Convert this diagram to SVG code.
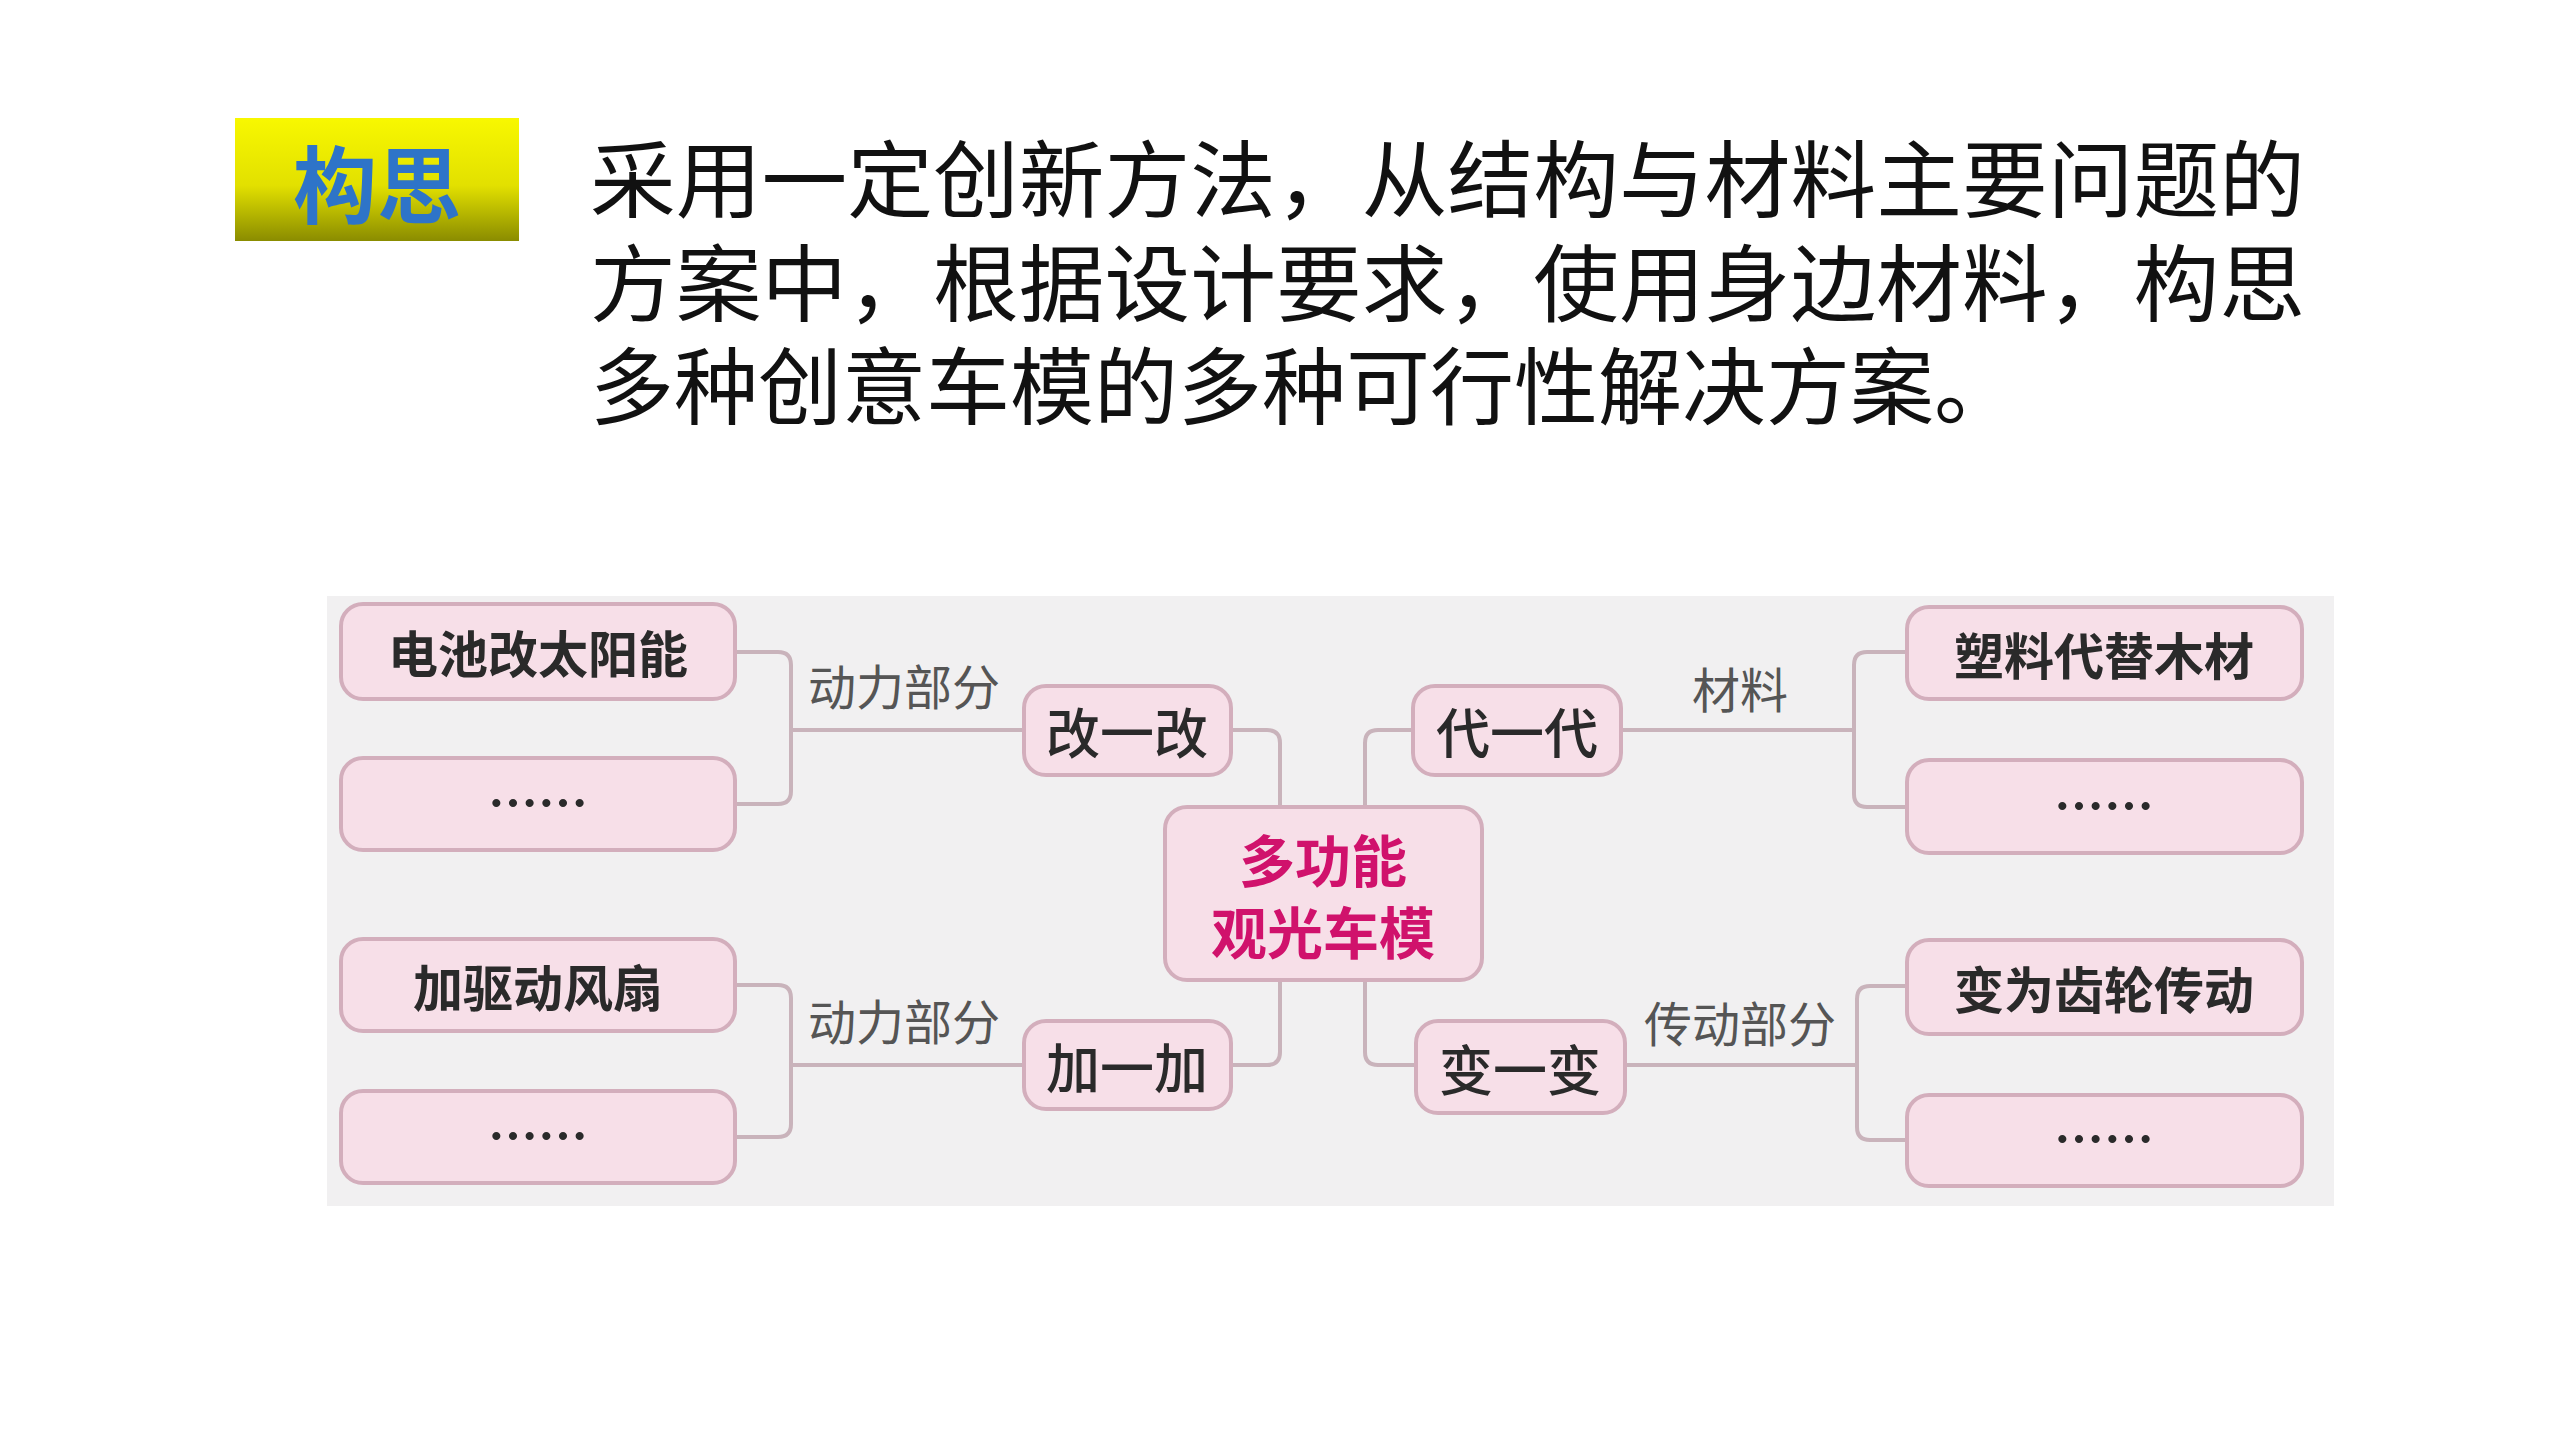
<svg xmlns="http://www.w3.org/2000/svg" width="2560" height="1440" viewBox="0 0 2560 1440">
<defs>
<linearGradient id="yg" x1="0" y1="0" x2="0" y2="1"><stop offset="0" stop-color="#f8f800"/><stop offset="0.55" stop-color="#e2e000"/><stop offset="1" stop-color="#8a8c00"/></linearGradient>
</defs>
<style>
.box{fill:#f7dfe8;stroke:#d3aebc;stroke-width:4}
.t{font-family:"Noto Sans CJK SC",sans-serif;font-weight:700;fill:#2a2a2a;text-anchor:middle;dominant-baseline:central}
.g{font-weight:500}
.lbl{font-family:"Noto Sans CJK SC",sans-serif;fill:#555;font-size:48px;text-anchor:middle}
.c{fill:none;stroke:#c9b3bb;stroke-width:4}
</style>
<rect width="2560" height="1440" fill="#fff"/>
<g id="title">
<rect x="235" y="118" width="284" height="123" fill="url(#yg)"/>
<text x="377" y="180" font-family="Noto Sans CJK SC,sans-serif" font-weight="700" font-size="84" fill="#2e74c8" text-anchor="middle" dominant-baseline="central">构思</text>
</g>
<g id="para" font-family="Noto Sans CJK SC,sans-serif" font-size="84" fill="#111">
<text x="590" y="211" textLength="1715" lengthAdjust="spacingAndGlyphs">采用一定创新方法，从结构与材料主要问题的</text>
<text x="590" y="315" textLength="1715" lengthAdjust="spacingAndGlyphs">方案中，根据设计要求，使用身边材料，构思</text>
<text x="590" y="418">多种创意车模的多种可行性解决方案。</text>
</g>
<rect x="327" y="596" width="2007" height="610" fill="#f1f0f1"/>
<g id="connectors" class="c">
<path d="M735 652 H778 Q791 652 791 665 V791 Q791 804 778 804 H735"/>
<path d="M791 730 H1024"/>
<path d="M735 985 H778 Q791 985 791 998 V1124 Q791 1137 778 1137 H735"/>
<path d="M791 1065 H1024"/>
<path d="M1231 730 H1267 Q1280 730 1280 743 V807"/>
<path d="M1231 1065 H1267 Q1280 1065 1280 1052 V980"/>
<path d="M1413 730 H1378 Q1365 730 1365 743 V807"/>
<path d="M1416 1065 H1378 Q1365 1065 1365 1052 V980"/>
<path d="M1907 652 H1867 Q1854 652 1854 665 V794 Q1854 807 1867 807 H1907"/>
<path d="M1621 730 H1854"/>
<path d="M1907 986 H1870 Q1857 986 1857 999 V1127 Q1857 1140 1870 1140 H1907"/>
<path d="M1625 1065 H1857"/>
</g>
<g id="labels">
<text class="lbl" x="904" y="705">动力部分</text>
<text class="lbl" x="904" y="1040">动力部分</text>
<text class="lbl" x="1740" y="708">材料</text>
<text class="lbl" x="1740" y="1042">传动部分</text>
</g>
<g id="n1"><rect class="box" x="341" y="604" width="394" height="95" rx="22"/><text class="t" x="538" y="651" font-size="50">电池改太阳能</text></g>
<g id="n2"><rect class="box" x="341" y="758" width="394" height="92" rx="22"/><text class="t" x="538" y="800" font-size="50">……</text></g>
<g id="n3"><rect class="box" x="341" y="939" width="394" height="92" rx="22"/><text class="t" x="538" y="985" font-size="50">加驱动风扇</text></g>
<g id="n4"><rect class="box" x="341" y="1091" width="394" height="92" rx="22"/><text class="t" x="538" y="1133" font-size="50">……</text></g>
<g id="n5"><rect class="box" x="1907" y="607" width="395" height="92" rx="22"/><text class="t" x="2104" y="653" font-size="50">塑料代替木材</text></g>
<g id="n6"><rect class="box" x="1907" y="760" width="395" height="93" rx="22"/><text class="t" x="2104" y="803" font-size="50">……</text></g>
<g id="n7"><rect class="box" x="1907" y="940" width="395" height="94" rx="22"/><text class="t" x="2104" y="987" font-size="50">变为齿轮传动</text></g>
<g id="n8"><rect class="box" x="1907" y="1095" width="395" height="91" rx="22"/><text class="t" x="2104" y="1136" font-size="50">……</text></g>
<g id="g1"><rect class="box" x="1024" y="686" width="207" height="89" rx="22"/><text class="t g" x="1127" y="730" font-size="54">改一改</text></g>
<g id="g2"><rect class="box" x="1024" y="1021" width="207" height="88" rx="22"/><text class="t g" x="1127" y="1065" font-size="54">加一加</text></g>
<g id="g3"><rect class="box" x="1413" y="686" width="208" height="89" rx="22"/><text class="t g" x="1517" y="730" font-size="54">代一代</text></g>
<g id="g4"><rect class="box" x="1416" y="1021" width="209" height="92" rx="22"/><text class="t g" x="1520" y="1067" font-size="54">变一变</text></g>
<g id="center"><rect class="box" x="1165" y="807" width="317" height="173" rx="22"/>
<text class="t" x="1323" y="857" font-size="56" style="fill:#d0126c">多功能</text>
<text class="t" x="1323" y="929" font-size="56" style="fill:#d0126c">观光车模</text></g>
</svg>
